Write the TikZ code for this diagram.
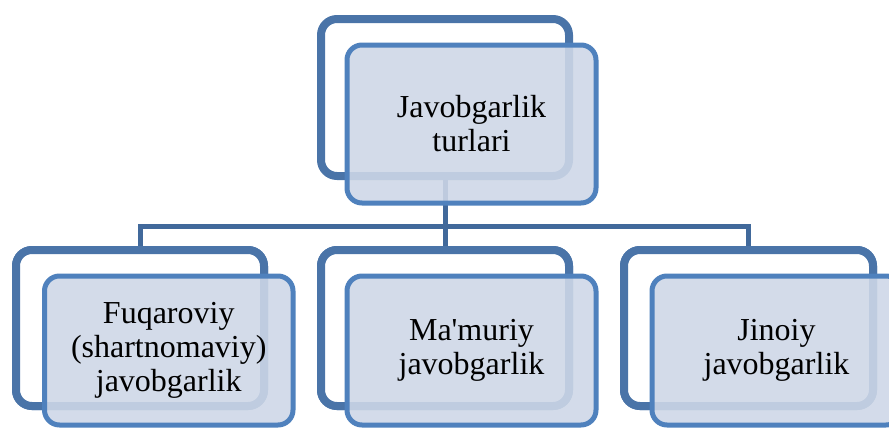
\documentclass[tikz,border=0pt]{standalone}
\usepackage{fontspec}
\newfontfamily\boxserif{Liberation Serif}
\definecolor{backline}{HTML}{4A74A8}
\definecolor{frontline}{HTML}{4F81BD}
\definecolor{frontfill}{RGB}{206,215,231}
\definecolor{linkcol}{HTML}{41699B}
\tikzset{
  backbox/.style={draw=backline, line width=8pt, fill=white, rounded corners=16pt, rectangle, inner sep=0pt},
  frontbox/.style={draw=frontline, line width=5pt, fill=frontfill, fill opacity=0.89, text opacity=1, draw opacity=1,
    rounded corners=15pt, rectangle, inner sep=0pt, align=center,
    font=\boxserif\fontsize{32}{34}\selectfont, text=black},
  link/.style={draw=linkcol, line width=5pt}
}
\begin{document}
\begin{tikzpicture}[x=1pt,y=-1pt]
\useasboundingbox (0,0) rectangle (889,429);
\clip (0,0) rectangle (889,429);
% back boxes
\node[backbox, minimum width=248pt, minimum height=157pt] (tb) at (445,97.5) {};
\node[backbox, minimum width=248pt, minimum height=156pt] (lb) at (140,328) {};
\node[backbox, minimum width=248pt, minimum height=156pt] (mb) at (445,328) {};
\node[backbox, minimum width=249pt, minimum height=156pt] (rb) at (748.5,328) {};
% connectors
\coordinate (j) at (445,226);
\draw[link] (tb.south) -- (j);
\draw[link] (lb.north) |- (j) -| (rb.north);
\draw[link] (j) -- (mb.north);
% redraw lower back boxes over connector ends
\node[backbox, minimum width=248pt, minimum height=156pt] at (140,328) {};
\node[backbox, minimum width=248pt, minimum height=156pt] at (445,328) {};
\node[backbox, minimum width=249pt, minimum height=156pt] at (748.5,328) {};
% front boxes
\node[frontbox, minimum width=249pt, minimum height=158pt] (tf) at (471.5,124) {Javobgarlik\\turlari};
\node[frontbox, minimum width=248.5pt, minimum height=149pt] (lf) at (168.75,350.5) {Fuqaroviy\\(shartnomaviy)\\javobgarlik};
\node[frontbox, minimum width=249pt, minimum height=149pt] (mf) at (471.5,350.5) {Ma'muriy\\javobgarlik};
\node[frontbox, minimum width=249pt, minimum height=149pt] (rf) at (776.5,350.5) {Jinoiy\\javobgarlik};
\end{tikzpicture}
\end{document}
